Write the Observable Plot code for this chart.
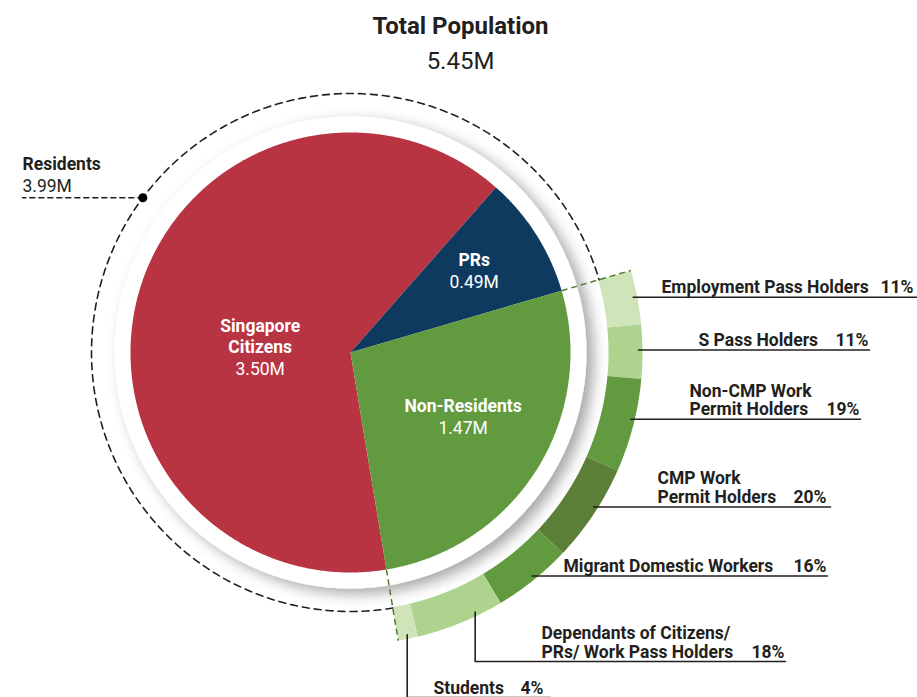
<!DOCTYPE html>
<html><head><meta charset="utf-8">
<script src="https://cdn.jsdelivr.net/npm/d3@7"></script>
<script src="https://cdn.jsdelivr.net/npm/@observablehq/plot@0.6"></script>
<style>
body{margin:0;background:#fff;font-family:Roboto,"Noto Sans",sans-serif;color:#231f20;}
#wrap{position:relative;width:917px;height:697px;overflow:hidden;}
#title{position:absolute;left:0;width:917px;top:14px;text-align:center;font-weight:700;font-size:24px;line-height:24px;padding-left:4px;box-sizing:border-box;}
#total{position:absolute;left:0;width:917px;top:49px;text-align:center;font-size:24px;line-height:24px;padding-left:4px;box-sizing:border-box;}
#chart{position:absolute;left:0;top:80px;}
</style></head>
<body>
<div id="wrap"><div id="title">Total Population</div><div id="total"></div><div id="chart"></div></div>
<script>
// ---- data ----
const totalLabel = "5.45M";
const mainCategories = ["Singapore\nCitizens", "PRs", "Non-Residents"];
const mainValues = [3.50, 0.49, 1.47];
const residentsName = "Residents";
const subCategories = ["Employment Pass Holders", "S Pass Holders", "Non-CMP Work\nPermit Holders", "CMP Work\nPermit Holders", "Migrant Domestic Workers", "Dependants of Citizens/\nPRs/ Work Pass Holders", "Students"];
const subShares = [11, 11, 19, 20, 16, 18, 4];

// ---- styles ----
const mainColors = ["#b83443", "#0f3a60", "#629a3f"];
const subColors = ["#cfe5b9", "#aed38f", "#629a3f", "#5b7f37", "#629a3f", "#aed38f", "#cfe5b9"];
const ink = "#231f20";
const labelSize = 17.5, labelLine = 18.5;

// ---- layout (pixels relative to pie centre) ----
const deg = Math.PI / 180;
const R = 220, discR = 236, arcR = 259, ringIn = 258, ringOut = 292, leadR = 288;
const startAngle = -189.4 * deg;
const mainLayout = [{r: 91, dA: -23}, {r: 145, dA: 1}, {r: 133, dA: 0}];
const subLayout = [
  {at: 0.49, nameX: 311, pctX: 563, end: 575},
  {at: 0.47, nameX: 348, pctX: 518, end: 519},
  {at: 0.44, nameX: 339, pctX: 509, end: 510},
  {at: 0.44, nameX: 307, pctX: 476, end: 480},
  {at: 0.48, nameX: 213, pctX: 476, end: 477},
  {at: 0.30, nameX: 191, pctX: 434, end: 435, underY: 309},
  {at: 0.50, nameX: 83, pctX: 193, end: 200, underY: 345}
];
const residentsAngle = -53.3 * deg, residentsTextX = -328;

document.getElementById("total").textContent = totalLabel;

const polar = (r, a) => [r * Math.sin(a), -r * Math.cos(a)];
function sector(key, r0, r1, a0, a1) {
  const n = Math.max(2, Math.ceil(Math.abs(a1 - a0) / (0.4 * deg)));
  const pts = [];
  for (let i = 0; i <= n; i++) { const [x, y] = polar(r1, a0 + (a1 - a0) * i / n); pts.push({key, x, y}); }
  if (r0 === 0) pts.push({key, x: 0, y: 0});
  else for (let i = n; i >= 0; i--) { const [x, y] = polar(r0, a0 + (a1 - a0) * i / n); pts.push({key, x, y}); }
  return pts;
}

const pie = d3.pie().sort(null).startAngle(startAngle).endAngle(startAngle + 2 * Math.PI);
const mainArcs = pie(mainValues);
const nonRes = mainArcs[2];
const subArcs = d3.pie().sort(null).startAngle(nonRes.startAngle).endAngle(nonRes.endAngle)(subShares);

const slicePts = mainArcs.flatMap((a, i) => sector(mainCategories[i], 0, R, a.startAngle, a.endAngle));
const ringPts = subArcs.flatMap((a, i) => sector(subCategories[i], ringIn, ringOut, a.startAngle, a.endAngle));

// residents dashed arc
const arcPts = [];
{
  const a0 = nonRes.endAngle, a1 = nonRes.startAngle + 2 * Math.PI, n = 400;
  for (let i = 0; i <= n; i++) { const [x, y] = polar(arcR, a0 + (a1 - a0) * i / n); arcPts.push({x, y}); }
}
const boundaryAngles = [nonRes.startAngle, nonRes.endAngle];

// leaders + labels (one text per line)
const leaderPts = [], subNameLines = [], subPcts = [];
subArcs.forEach((a, i) => {
  const L = subLayout[i], key = subCategories[i];
  const ang = a.startAngle + (a.endAngle - a.startAngle) * L.at;
  const [sx, sy] = polar(leadR, ang);
  const uy = L.underY !== undefined ? L.underY : sy;
  leaderPts.push({key, x: sx, y: sy});
  if (L.underY !== undefined) leaderPts.push({key, x: sx, y: uy});
  leaderPts.push({key, x: L.end, y: uy});
  const base = uy - 4;
  const lines = key.split("\n");
  lines.forEach((t, j) => subNameLines.push({t, x: L.nameX, y: base - (lines.length - 1 - j) * labelLine}));
  subPcts.push({t: subShares[i] + "%", x: L.pctX, y: base});
});

const fmt = d3.format(".2f");
const mainNameLines = [], mainValueLabels = [];
mainArcs.forEach((a, i) => {
  const L = mainLayout[i];
  const [x, y] = polar(L.r, (a.startAngle + a.endAngle) / 2 + L.dA * deg);
  const lines = mainCategories[i].split("\n");
  lines.forEach((t, j) => mainNameLines.push({t, x, y: y - 11 - (lines.length - 1 - j) * 21}));
  mainValueLabels.push({t: fmt(mainValues[i]) + "M", x, y: y + 11});
});

const [dotX, dotY] = polar(arcR, residentsAngle);
const residentsValue = fmt(mainValues[0] + mainValues[1]) + "M";

const chart = Plot.plot({
  width: 917, height: 617, margin: 0,
  x: {domain: [-350, 567], range: [0, 917], axis: null},
  y: {domain: [-272, 345], range: [0, 617], axis: null},
  color: {domain: [...mainCategories, ...subCategories], range: [...mainColors, ...subColors]},
  style: {fontFamily: "Roboto, sans-serif", color: ink, background: "white"},
  marks: [
    Plot.dot(["disc"], {x: () => 0, y: () => 0, r: discR, fill: "white", stroke: "none"}),
    Plot.line(ringPts, {x: "x", y: "y", z: "key", fill: "key", stroke: null, curve: "linear-closed"}),
    Plot.line(slicePts, {x: "x", y: "y", z: "key", fill: "key", stroke: null, curve: "linear-closed"}),
    Plot.line(arcPts, {x: "x", y: "y", stroke: ink, strokeWidth: 1.6, strokeDasharray: "7,5"}),
    Plot.link(boundaryAngles, {
      x1: a => polar(R, a)[0], y1: a => polar(R, a)[1],
      x2: a => polar(ringOut, a)[0], y2: a => polar(ringOut, a)[1],
      stroke: "#4e7a32", strokeWidth: 1.5, strokeDasharray: "6,4"
    }),
    Plot.line(leaderPts, {x: "x", y: "y", z: "key", stroke: ink, strokeWidth: 1.6}),
    Plot.text(subNameLines, {x: "x", y: "y", text: "t", textAnchor: "start", lineAnchor: "bottom", fontSize: labelSize, fontWeight: 700, fill: ink}),
    Plot.text(subPcts, {x: "x", y: "y", text: "t", textAnchor: "end", lineAnchor: "bottom", fontSize: labelSize, fontWeight: 700, fill: ink}),
    Plot.text(mainNameLines, {x: "x", y: "y", text: "t", textAnchor: "middle", lineAnchor: "bottom", fontSize: 17.5, fontWeight: 700, fill: "white"}),
    Plot.text(mainValueLabels, {x: "x", y: "y", text: "t", textAnchor: "middle", lineAnchor: "bottom", fontSize: 17.5, fill: "white"}),
    Plot.line([{x: dotX, y: dotY}, {x: residentsTextX, y: dotY}], {x: "x", y: "y", stroke: ink, strokeWidth: 1.5, strokeDasharray: "5,4"}),
    Plot.dot([{x: dotX, y: dotY}], {x: "x", y: "y", r: 4.5, fill: "#000", stroke: "none"}),
    Plot.text([residentsName], {x: () => residentsTextX, y: () => dotY - 28, text: d => d, textAnchor: "start", lineAnchor: "bottom", fontSize: 17.5, fontWeight: 700, fill: ink}),
    Plot.text([residentsValue], {x: () => residentsTextX, y: () => dotY - 6, text: d => d, textAnchor: "start", lineAnchor: "bottom", fontSize: 17.5, fill: ink})
  ]
});

// drop shadow for the white disc
const ns = "http://www.w3.org/2000/svg";
const defs = document.createElementNS(ns, "defs");
defs.innerHTML = '<filter id="discShadow" x="-30%" y="-30%" width="160%" height="160%"><feDropShadow dx="7" dy="5" stdDeviation="7" flood-color="#000" flood-opacity="0.35"/></filter>';
chart.insertBefore(defs, chart.firstChild);
const disc = [...chart.querySelectorAll("circle")].find(c => +c.getAttribute("r") === discR);
if (disc) disc.setAttribute("filter", "url(#discShadow)");
document.getElementById("chart").appendChild(chart);
</script>
</body></html>
